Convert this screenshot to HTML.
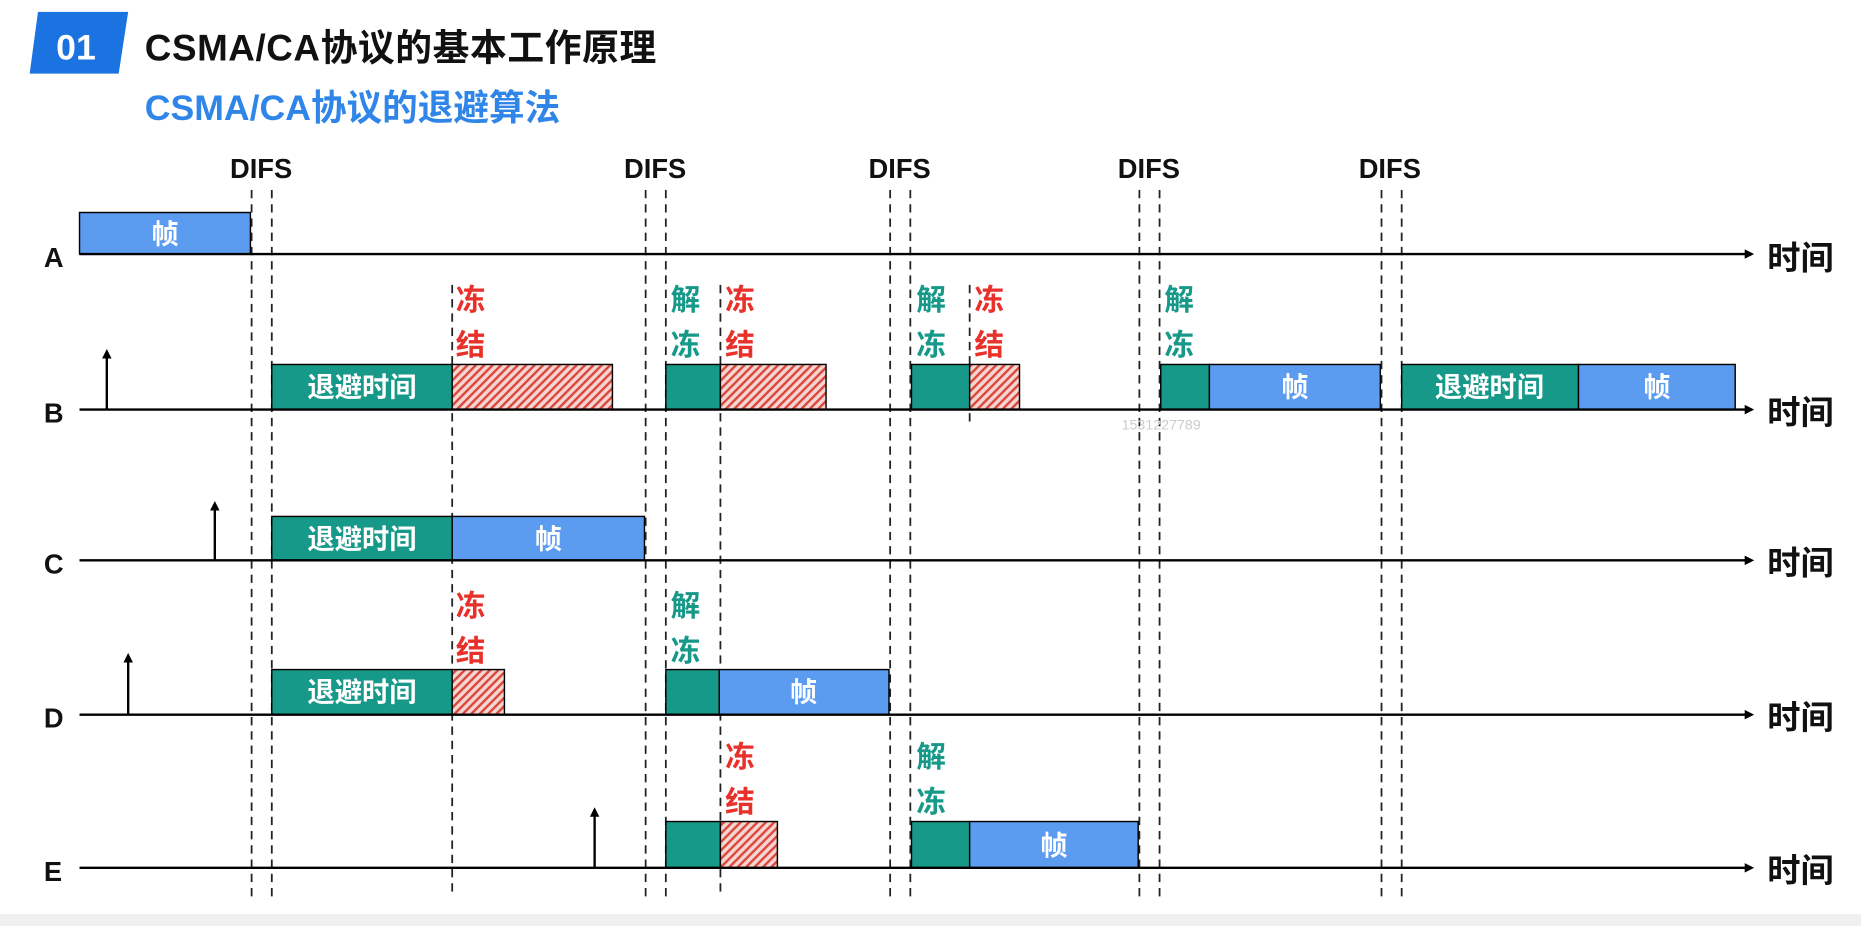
<!DOCTYPE html>
<html><head><meta charset="utf-8"><style>
html,body{margin:0;padding:0;background:#fff;}
svg{display:block;}
text{font-family:"Liberation Sans","Noto Sans CJK SC",sans-serif;font-weight:bold;}
</style></head><body>
<svg width="1861" height="926" viewBox="0 0 1568 780" preserveAspectRatio="none" xmlns="http://www.w3.org/2000/svg">
<defs>
<pattern id="h" width="5" height="5" patternUnits="userSpaceOnUse" patternTransform="rotate(45)">
<rect width="5" height="5" fill="#f6d4d0"/><rect width="2" height="5" fill="#d9463c"/>
</pattern>
<marker id="ar" markerWidth="8" markerHeight="8" refX="6" refY="4" orient="auto" markerUnits="userSpaceOnUse"><path d="M0,0 L8,4 L0,8 Z" fill="#000"/></marker>
<marker id="au" markerWidth="8" markerHeight="8" refX="4" refY="4" orient="auto" markerUnits="userSpaceOnUse"><path d="M0,0 L8,4 L0,8 Z" fill="#000"/></marker>
</defs>
<rect width="1568" height="780" fill="#fff"/>
<rect x="0" y="770" width="1568" height="10" fill="#f0f0f0"/>
<polygon points="32,10 108,10 100,62 25,62" fill="#1a73e0"/>
<text x="64" y="50" font-size="30" fill="#fff" text-anchor="middle">01</text>
<text x="122" y="51" font-size="31" fill="#111" letter-spacing="0.5">CSMA/CA协议的基本工作原理</text>
<text x="122" y="101" font-size="30" fill="#2f86e8">CSMA/CA协议的退避算法</text>
<g font-size="23" fill="#111" text-anchor="middle">
<text x="220" y="150">DIFS</text><text x="552" y="150">DIFS</text><text x="758" y="150">DIFS</text><text x="968" y="150">DIFS</text><text x="1171" y="150">DIFS</text>
</g>
<g stroke="#222" stroke-width="1.5" stroke-dasharray="7,5">
<line x1="212" y1="160" x2="212" y2="755"/><line x1="229" y1="160" x2="229" y2="755"/>
<line x1="544" y1="160" x2="544" y2="755"/><line x1="561" y1="160" x2="561" y2="755"/>
<line x1="750" y1="160" x2="750" y2="755"/><line x1="767" y1="160" x2="767" y2="755"/>
<line x1="960" y1="160" x2="960" y2="755"/><line x1="977" y1="160" x2="977" y2="755"/>
<line x1="1164" y1="160" x2="1164" y2="755"/><line x1="1181" y1="160" x2="1181" y2="755"/>
<line x1="381" y1="240" x2="381" y2="755"/><line x1="607" y1="240" x2="607" y2="755"/><line x1="817" y1="240" x2="817" y2="360"/>
</g>
<g stroke="#000" stroke-width="1.2">
<rect x="67" y="179" width="144" height="35" fill="#5b9cf0"/>
<rect x="229" y="307" width="152" height="38" fill="#17998a"/>
<rect x="381" y="307" width="135" height="38" fill="url(#h)"/>
<rect x="561" y="307" width="46" height="38" fill="#17998a"/>
<rect x="607" y="307" width="89" height="38" fill="url(#h)"/>
<rect x="768" y="307" width="49" height="38" fill="#17998a"/>
<rect x="817" y="307" width="42" height="38" fill="url(#h)"/>
<rect x="978" y="307" width="41" height="38" fill="#17998a"/>
<rect x="1019" y="307" width="144" height="38" fill="#5b9cf0"/>
<rect x="1181" y="307" width="149" height="38" fill="#17998a"/>
<rect x="1330" y="307" width="132" height="38" fill="#5b9cf0"/>
<rect x="229" y="435" width="152" height="37" fill="#17998a"/>
<rect x="381" y="435" width="162" height="37" fill="#5b9cf0"/>
<rect x="229" y="564" width="152" height="38" fill="#17998a"/>
<rect x="381" y="564" width="44" height="38" fill="url(#h)"/>
<rect x="561" y="564" width="45" height="38" fill="#17998a"/>
<rect x="606" y="564" width="143" height="38" fill="#5b9cf0"/>
<rect x="561" y="692" width="46" height="39" fill="#17998a"/>
<rect x="607" y="692" width="48" height="39" fill="url(#h)"/>
<rect x="768" y="692" width="49" height="39" fill="#17998a"/>
<rect x="817" y="692" width="142" height="39" fill="#5b9cf0"/>
</g>
<g stroke="#000" stroke-width="2" marker-end="url(#ar)">
<line x1="67" y1="214" x2="1476" y2="214"/><line x1="67" y1="345" x2="1476" y2="345"/>
<line x1="67" y1="472" x2="1476" y2="472"/><line x1="67" y1="602" x2="1476" y2="602"/>
<line x1="67" y1="731" x2="1476" y2="731"/>
</g>
<g stroke="#000" stroke-width="2" marker-end="url(#au)">
<line x1="90" y1="345" x2="90" y2="298"/><line x1="181" y1="472" x2="181" y2="426"/>
<line x1="108" y1="602" x2="108" y2="554"/><line x1="501" y1="731" x2="501" y2="684"/>
</g>
<g font-size="23" fill="#111">
<text x="37" y="225">A</text><text x="37" y="356">B</text><text x="37" y="483">C</text><text x="37" y="613">D</text><text x="37" y="742">E</text>
</g>
<g font-size="28" fill="#111">
<text x="1489" y="227">时间</text><text x="1489" y="357">时间</text><text x="1489" y="484">时间</text><text x="1489" y="614">时间</text><text x="1489" y="743">时间</text>
</g>
<g font-size="23" fill="#fff" text-anchor="middle">
<text x="139" y="205">帧</text>
<text x="305" y="334">退避时间</text><text x="1091" y="334">帧</text><text x="1255" y="334">退避时间</text><text x="1396" y="334">帧</text>
<text x="305" y="462">退避时间</text><text x="462" y="462">帧</text>
<text x="305" y="591">退避时间</text><text x="677" y="591">帧</text>
<text x="888" y="720">帧</text>
</g>
<g font-size="25">
<g fill="#e8312a"><text x="384" y="261">冻</text><text x="384" y="299">结</text>
<text x="611" y="261">冻</text><text x="611" y="299">结</text>
<text x="821" y="261">冻</text><text x="821" y="299">结</text>
<text x="384" y="519">冻</text><text x="384" y="557">结</text>
<text x="611" y="646">冻</text><text x="611" y="684">结</text></g>
<g fill="#17998a"><text x="565" y="261">解</text><text x="565" y="299">冻</text>
<text x="772" y="261">解</text><text x="772" y="299">冻</text>
<text x="981" y="261">解</text><text x="981" y="299">冻</text>
<text x="565" y="519">解</text><text x="565" y="557">冻</text>
<text x="772" y="646">解</text><text x="772" y="684">冻</text></g>
</g>
<text x="945" y="362" font-size="12" fill="#ccc" style="font-weight:normal">1531227789</text>
</svg>
</body></html>
